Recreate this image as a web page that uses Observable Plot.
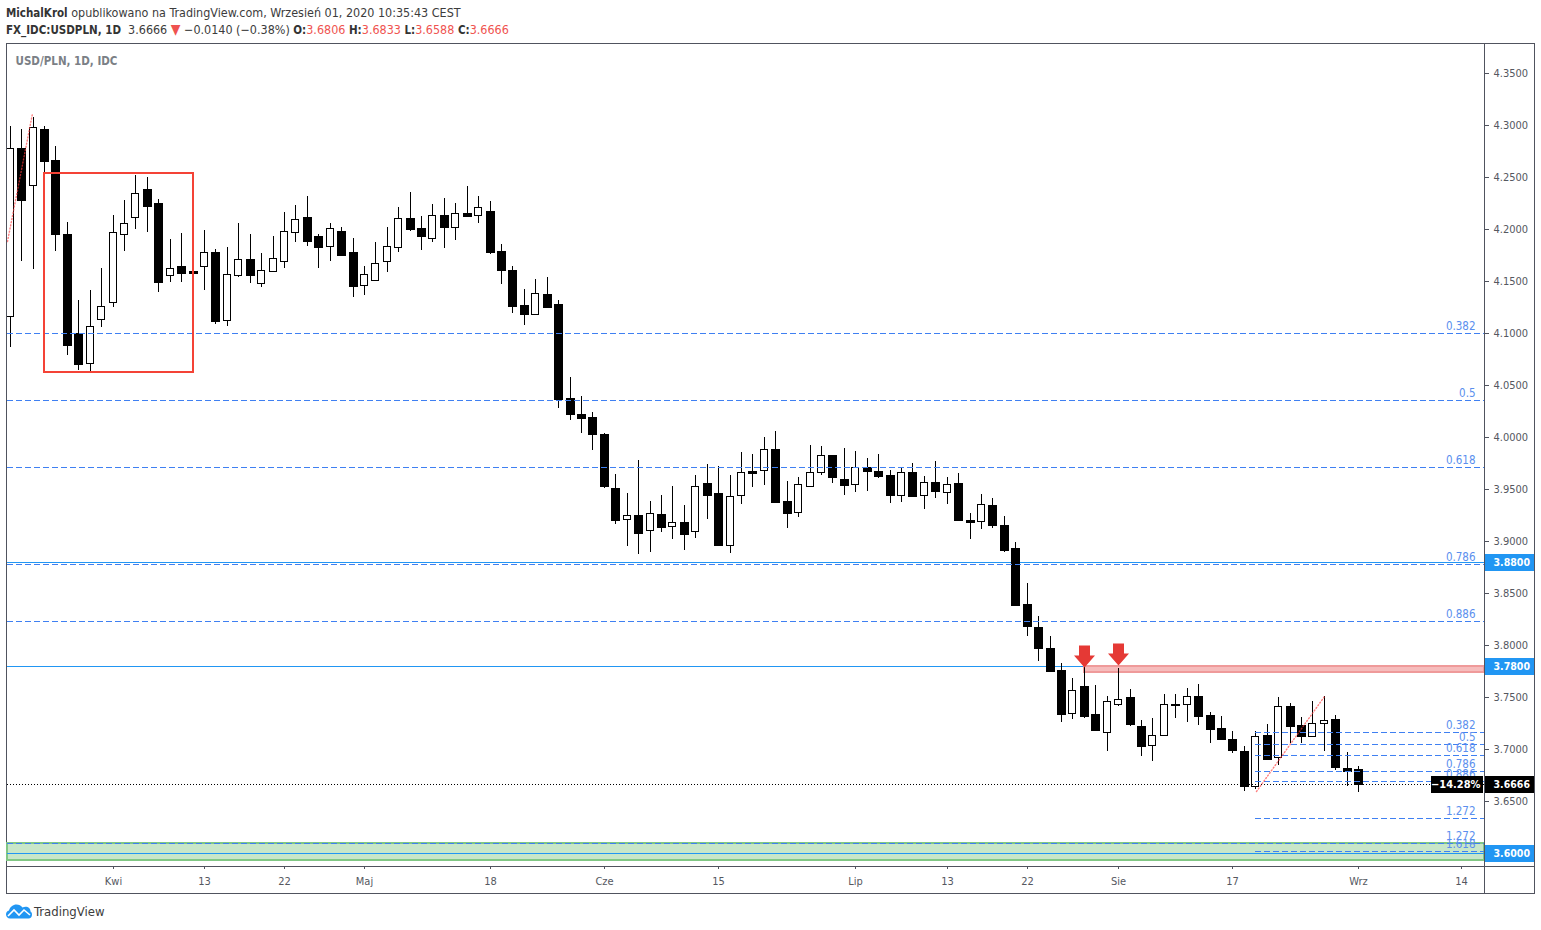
<!DOCTYPE html>
<html lang="pl">
<head>
<meta charset="utf-8">
<script src="https://cdn.jsdelivr.net/npm/d3@7"></script>
<script src="https://cdn.jsdelivr.net/npm/@observablehq/plot@0.6"></script>
<style>
  html,body{margin:0;padding:0;background:#fff;overflow:hidden;}
  body{width:1541px;height:930px;position:relative;font-family:"DejaVu Sans Condensed","DejaVu Sans",sans-serif;}
  #head{height:40px;box-sizing:border-box;padding:5px 0 0 6px;font-size:12.45px;line-height:16px;color:#3c3c3c;white-space:pre;}
  #head b{color:#333;font-size:11.5px;}
  #head i{font-style:normal;color:#ef5350;}
  #head .t{font-size:14px;line-height:14px;}
  #frame{position:absolute;left:6px;top:43px;width:1527px;height:849px;border:1px solid #50535e;pointer-events:none;}
  #chart{position:absolute;left:0;top:40px;}
  #chart svg{display:block;overflow:visible;background:transparent;}
  #foot{position:absolute;left:6px;top:904px;display:flex;align-items:center;gap:2px;font-size:13px;color:#3c3c3c;}
</style>
</head>
<body>
<div id="head"><div><b>MichalKrol</b> opublikowano na TradingView.com, Wrzesień 01, 2020 10:35:43 CEST</div><div style="margin-top:1px"><b>FX_IDC:USDPLN, 1D</b>  3.6666 <i class="t">▼</i> −0.0140 (−0.38%) <b>O:</b><i>3.6806</i> <b>H:</b><i>3.6833</i> <b>L:</b><i>3.6588</i> <b>C:</b><i>3.6666</i></div></div>
<div id="frame"></div>
<div id="chart"></div>
<div id="foot"><svg width="26" height="15" viewBox="0 0 26 14"><path d="M0 10C0 8 1 6.5 3 6 4 2.5 7 0 10.5 0c2.5 0 4.5 1 6 3 1-.5 2-.7 3-.7 3 0 5 2 5 4.7 1 .7 1.500 1.800 1.500 3C26 12.500 24.500 14 22.500 14H4C1.800 14 0 12.200 0 10z" fill="#2196f3"/><path d="M2 11.500 8 5.500l5 5 5-5 6 5" fill="none" stroke="#fff" stroke-width="1.600"/></svg><span>TradingView</span></div>
<script>
const opens = [4.1160,4.2776,4.2420,4.2958,4.2660,4.1949,4.1000,4.0708,4.1131,4.1301,4.1949,4.2112,4.2381,4.2250,4.1554,4.1641,4.1596,4.1641,4.1776,4.1122,4.1561,4.1708,4.1478,4.1593,4.1689,4.1968,4.2112,4.1929,4.1833,4.1978,4.1776,4.1458,4.1506,4.1689,4.1824,4.2103,4.2006,4.1910,4.2131,4.2016,4.2151,4.2131,4.2170,4.1785,4.1603,4.1269,4.1180,4.1372,4.1279,4.0372,4.0221,4.0192,4.0029,3.9510,3.9208,3.9247,3.9103,3.9256,3.9141,3.9180,3.9093,3.9555,3.9458,3.8958,3.9439,3.9673,3.9680,3.9881,3.9381,3.9276,3.9526,3.9660,3.9824,3.9593,3.9545,3.9708,3.9670,3.9631,3.9439,3.9660,3.9439,3.9564,3.9468,3.9555,3.9199,3.9189,3.9343,3.9151,3.8933,3.8394,3.8173,3.7971,3.7760,3.7343,3.7606,3.7337,3.7160,3.7430,3.7500,3.7221,3.7035,3.7131,3.7433,3.7430,3.7510,3.7327,3.7202,3.7096,3.6981,3.6641,3.7135,3.6920,3.7414,3.7231,3.7122,3.7247,3.7288,3.6817,3.6806];
const closes = [4.2776,4.2282,4.2978,4.2657,4.1955,4.0888,4.0705,4.1064,4.1256,4.1968,4.2054,4.2343,4.2224,4.1494,4.1622,4.1580,4.1580,4.1776,4.1119,4.1564,4.1708,4.1561,4.1603,4.1718,4.1978,4.2093,4.1888,4.1830,4.2006,4.1753,4.1455,4.1564,4.1670,4.1833,4.2103,4.2003,4.1936,4.2131,4.2022,4.2151,4.2128,4.2208,4.1782,4.1609,4.1263,4.1186,4.1381,4.1253,4.0369,4.0224,4.0186,4.0032,3.9532,3.9205,3.9247,3.9080,3.9266,3.9138,3.9180,3.9071,3.9526,3.9446,3.8965,3.9430,3.9660,3.9657,3.9881,3.9378,3.9272,3.9545,3.9660,3.9824,3.9619,3.9542,3.9708,3.9676,3.9628,3.9446,3.9660,3.9436,3.9564,3.9484,3.9545,3.9205,3.9186,3.9353,3.9157,3.8917,3.8388,3.8186,3.7974,3.7753,3.7340,3.7564,3.7321,3.7186,3.7458,3.7478,3.7244,3.7032,3.7131,3.7430,3.7426,3.7506,3.7321,3.7195,3.7099,3.6994,3.6647,3.7122,3.6907,3.7410,3.7224,3.7128,3.7247,3.7276,3.6830,3.6792,3.6666];
const highs = [4.2990,4.2962,4.3074,4.2990,4.2798,4.2064,4.1317,4.1413,4.1625,4.2135,4.2279,4.2519,4.2500,4.2288,4.1904,4.1962,4.1596,4.1990,4.1808,4.1827,4.2058,4.1952,4.1769,4.1933,4.2163,4.2231,4.2317,4.1952,4.2054,4.2019,4.1913,4.1644,4.1875,4.2019,4.2211,4.2356,4.2125,4.2240,4.2298,4.2250,4.2414,4.2317,4.2269,4.1856,4.1644,4.1423,4.1519,4.1539,4.1317,4.0577,4.0394,4.0240,4.0039,3.9644,3.9462,3.9779,3.9385,3.9442,3.9529,3.9346,3.9635,3.9740,3.9721,3.9635,3.9856,3.9837,4.0000,4.0058,3.9577,3.9615,3.9923,3.9914,3.9827,3.9894,3.9865,3.9798,3.9837,3.9683,3.9702,3.9750,3.9625,3.9769,3.9615,3.9654,3.9269,3.9452,3.9414,3.9240,3.8990,3.8596,3.8279,3.8087,3.7827,3.7683,3.7785,3.7615,3.7510,3.7782,3.7577,3.7279,3.7298,3.7529,3.7529,3.7587,3.7625,3.7356,3.7317,3.7173,3.7029,3.7173,3.7240,3.7500,3.7442,3.7308,3.7461,3.7510,3.7327,3.6971,3.6833];
const lows = [4.0869,4.1696,4.1612,4.2535,4.1792,4.0792,4.0647,4.0638,4.1058,4.1250,4.1792,4.2000,4.1974,4.1397,4.1494,4.1494,4.1580,4.1417,4.1090,4.1071,4.1542,4.1484,4.1446,4.1593,4.1628,4.1878,4.1840,4.1628,4.1696,4.1744,4.1349,4.1369,4.1506,4.1590,4.1782,4.1984,4.1801,4.1878,4.1820,4.1897,4.2128,4.2061,4.1763,4.1474,4.1196,4.1080,4.1180,4.1244,4.0282,4.0167,4.0042,3.9878,3.9513,3.9167,3.8955,3.8878,3.8897,3.9090,3.9023,3.8917,3.9032,3.9215,3.8965,3.8888,3.9359,3.9522,3.9542,3.9378,3.9128,3.9234,3.9526,3.9638,3.9561,3.9446,3.9474,3.9484,3.9609,3.9369,3.9378,3.9436,3.9311,3.9417,3.9359,3.9205,3.9023,3.9119,3.9128,3.8897,3.8388,3.8090,3.7849,3.7753,3.7263,3.7292,3.7301,3.7176,3.6984,3.7417,3.7224,3.6936,3.6888,3.7131,3.7301,3.7263,3.7234,3.7061,3.7099,3.6965,3.6599,3.6619,3.6907,3.6849,3.7055,3.7061,3.7122,3.6984,3.6801,3.6647,3.6588];

const priceTicks = [4.35,4.30,4.25,4.20,4.15,4.10,4.05,4.00,3.95,3.90,3.85,3.80,3.75,3.70,3.65];
const dateTicks = [9,17,24,31,42,52,62,74,82,89,97,107,118,127];
const dateLabels = ["Kwi","13","22","Maj","18","Cze","15","Lip","13","22","Sie","17","Wrz","14"];

const fibBigLevels = [4.1000,4.0352,3.9709,3.8776,3.8228,3.6093];
const fibBigLabels = ["0.382","0.5","0.618","0.786","0.886","1.272"];
const fibSmallLevels = [3.7160,3.7045,3.6939,3.6784,3.6689,3.6334,3.6016];
const fibSmallLabels = ["0.382","0.5","0.618","0.786","0.886","1.272","1.618"];
const fibSmallStart = 109;
const solidLevels = [3.88,3.78,3.60];
const lastPrice = 3.6666;

const trendBig = [{i:-0.2,p:4.1885},{i:1.91,p:4.3113}];
const trendSmall = [{i:109.04,p:3.6596},{i:115,p:3.7513}];
const redBox = {x1:3,x2:16.02,y1:4.0625,y2:4.2538};
const pinkZone = {x1:94,y1:3.7742,y2:3.78};
const greenZone = {y1:3.5933,y2:3.6097};
const arrowIdx = [94,97];
const arrowTip = [3.7791,3.7810];
const paneStart = -0.2363, paneEnd = 129.02;
const priceMin = 3.5875, priceMax = 4.3779, outerBottom = 3.5615;
const tagStart = 129.1, tagEnd = 133.4, pctStart = 124.38, pctEnd = 128.93;

const candles = opens.map((o,i)=>({i,o,c:closes[i],h:highs[i],l:lows[i]}));
const up = candles.filter(d=>d.c>=d.o);
const down = candles.filter(d=>d.c<d.o);

const arrowSymbol = {draw(ctx,size){
  const s=Math.sqrt(size/Math.PI);
  ctx.moveTo(0,0);ctx.lineTo(-10.5*s,-12*s);ctx.lineTo(-5.5*s,-12*s);ctx.lineTo(-5.5*s,-22*s);
  ctx.lineTo(5.5*s,-22*s);ctx.lineTo(5.5*s,-12*s);ctx.lineTo(10.5*s,-12*s);ctx.closePath();
}};

const blue="#3f80f2", labelBlue="#5b8fee", solid="#2196f3", gray="#55585f", line="#50535e", axisFont="'DejaVu Sans Condensed','DejaVu Sans',sans-serif";

const chart = Plot.plot({
  width:1541,height:860,marginTop:4,marginBottom:34,marginLeft:7,marginRight:57,
  style:{fontFamily:axisFont,fontSize:"11px",background:"transparent",overflow:"visible"},
  x:{domain:[paneStart,paneEnd],range:[7,1484],round:true,axis:null},
  y:{domain:[priceMin,priceMax],range:[826,4],round:true,axis:null},
  marks:[
    Plot.rect([greenZone],{x1:()=>paneStart,x2:()=>paneEnd,y1:"y1",y2:"y2",fill:"#c8e6c9",stroke:"#81c784",strokeWidth:2}),
    Plot.ruleY(solidLevels.slice(0,2),{stroke:solid,strokeWidth:1}),
    Plot.rect([pinkZone],{x1:"x1",x2:()=>paneEnd,y1:"y1",y2:"y2",fill:"#f6bcbc",stroke:"#ef9a9a",strokeWidth:2}),
    Plot.ruleX(candles,{x:"i",y1:"l",y2:"h",stroke:"#000",strokeWidth:1,clip:"frame"}),
    Plot.rect(down,{x1:"i",x2:"i",y1:"o",y2:"c",fill:"#000",stroke:"#000",strokeWidth:1,insetLeft:-4,insetRight:-4,dx:0.5,dy:0.5,clip:"frame"}),
    Plot.rect(up,{x1:"i",x2:"i",y1:"o",y2:"c",fill:"#fff",stroke:"#000",strokeWidth:1,insetLeft:-4,insetRight:-3,dx:0.5,dy:0.5,clip:"frame"}),
    Plot.ruleY(fibBigLevels,{stroke:blue,strokeWidth:1,strokeDasharray:"6,3"}),
    Plot.ruleY(fibSmallLevels,{x1:()=>fibSmallStart,x2:()=>paneEnd,y:d=>d,stroke:blue,strokeWidth:1,strokeDasharray:"6,3"}),
    Plot.ruleY([solidLevels[2]],{stroke:solid,strokeWidth:1}),
    Plot.ruleY([lastPrice],{stroke:"#000",strokeWidth:1,strokeDasharray:"1,2"}),
    Plot.line(trendBig,{x:"i",y:"p",stroke:"#ff3b3b",strokeOpacity:0.65,strokeWidth:1.4,strokeDasharray:"1,2.2",clip:"frame"}),
    Plot.line(trendSmall,{x:"i",y:"p",stroke:"#ff3b3b",strokeOpacity:0.65,strokeWidth:1.4,strokeDasharray:"1,2.2",clip:"frame"}),
    Plot.rect([redBox],{x1:"x1",x2:"x2",y1:"y1",y2:"y2",fill:"none",stroke:"#f44336",strokeWidth:2}),
    Plot.dot(arrowIdx,{x:d=>d,y:(d,i)=>arrowTip[i],r:1,symbol:arrowSymbol,fill:"#e53935",stroke:"none"}),
    Plot.ruleX([paneEnd],{y1:()=>priceMax,y2:()=>outerBottom,stroke:line,strokeWidth:1}),
    Plot.ruleY([priceMin],{x1:()=>paneStart,x2:()=>tagEnd,y:d=>d,stroke:line,strokeWidth:1}),
    Plot.text(fibBigLevels,{y:d=>d,text:(d,i)=>fibBigLabels[i],frameAnchor:"right",textAnchor:"end",dx:-9,dy:-7,fill:labelBlue,fontSize:11.5}),
    Plot.text(fibSmallLevels,{y:d=>d,text:(d,i)=>fibSmallLabels[i],frameAnchor:"right",textAnchor:"end",dx:-9,dy:-7,fill:labelBlue,fontSize:11.5}),
    Plot.axisY({anchor:"right",ticks:priceTicks,tickFormat:d=>d.toFixed(4),tickSize:4,tickPadding:5,label:null,stroke:line,fill:gray,textAnchor:"start",fontSize:11}),
    Plot.axisX({anchor:"bottom",ticks:dateTicks,tickFormat:d=>dateLabels[dateTicks.indexOf(d)],tickSize:3,tickPadding:8,label:null,stroke:line,fill:gray,fontSize:11}),
    Plot.ruleY(solidLevels,{x1:()=>tagStart,x2:()=>tagEnd,y:d=>d,stroke:solid,strokeWidth:17}),
    Plot.ruleY([lastPrice],{x1:()=>tagStart,x2:()=>tagEnd,y:d=>d,stroke:"#000",strokeWidth:17}),
    Plot.ruleY([lastPrice],{x1:()=>pctStart,x2:()=>pctEnd,y:d=>d,stroke:"#000",strokeWidth:17}),
    Plot.text(solidLevels.concat([lastPrice]),{x:()=>tagStart,y:d=>d,text:d=>d.toFixed(4),textAnchor:"start",dx:8,fill:"#fff",fontSize:10.5,fontWeight:"bold"}),
    Plot.text([lastPrice],{x:()=>pctEnd,y:d=>d,text:()=>"−14.28%",textAnchor:"end",dx:-3,fill:"#fff",fontSize:11,fontWeight:"bold"}),
    Plot.text(["USD/PLN, 1D, IDC"],{frameAnchor:"top-left",dx:8,dy:12,fill:"#7b7f86",fontWeight:"bold",fontSize:11.5,textAnchor:"start"})
  ]
});
document.getElementById("chart").appendChild(chart);
</script>
</body>
</html>
